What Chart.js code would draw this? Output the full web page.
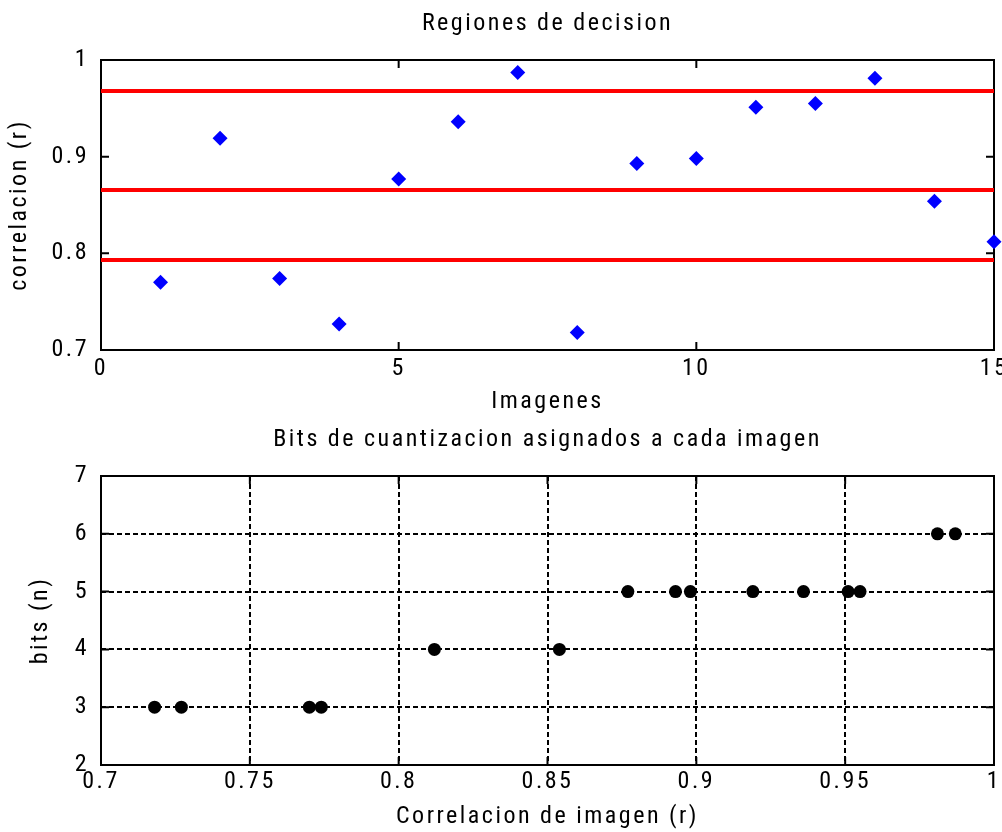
<!DOCTYPE html>
<html><head><meta charset="utf-8">
<script src="https://cdn.jsdelivr.net/npm/chart.js@4"></script>
<style>
html,body{margin:0;padding:0;background:#fff;width:1002px;height:832px;overflow:hidden}
#c1{position:absolute;left:0;top:0}
#c2{position:absolute;left:0;top:420px}
</style></head><body>
<canvas id="c1" width="1002" height="420"></canvas>
<canvas id="c2" width="1002" height="412"></canvas>
<script>
// ---- data ----
const images = [1,2,3,4,5,6,7,8,9,10,11,12,13,14,15];
const correlation = [0.770,0.919,0.774,0.727,0.877,0.936,0.987,0.718,0.893,0.898,0.951,0.955,0.981,0.854,0.812];
const thresholds = [0.968,0.8655,0.793];
const bits = [3,5,3,3,5,5,6,3,5,5,5,5,6,4,4];
const topTitle = 'Regiones de decision';
const topXLabel = 'Imagenes';
const topYLabel = 'correlacion (r)';
const botTitle = 'Bits de cuantizacion asignados a cada imagen';
const botXLabel = 'Correlacion de imagen (r)';
const botYLabel = 'bits (n)';

// ---- style ----
const FONT = "'Roboto Condensed','DejaVu Sans Condensed',sans-serif";
const SPACING = '2.5px';
const FS = 24;
Chart.defaults.font.family = FONT;
Chart.defaults.font.size = FS;
Chart.defaults.color = '#000';
Chart.defaults.animation = false;

const spacingPlugin = {
  id: 'spacing',
  beforeUpdate(c){ c.ctx.letterSpacing = SPACING; },
  beforeLayout(c){ c.ctx.letterSpacing = SPACING; },
  beforeDraw(c){ c.ctx.letterSpacing = SPACING; }
};
Chart.register(spacingPlugin);

const framePlugin = {
  id: 'frame',
  beforeDatasetsDraw(c){
    const ctx = c.ctx, a = c.chartArea;
    ctx.save();
    ctx.strokeStyle = '#000';
    ctx.lineWidth = 2;
    ctx.setLineDash([]);
    ctx.strokeRect(a.left, a.top, a.right - a.left, a.bottom - a.top);
    const L = 8;
    ctx.beginPath();
    c.scales.x.ticks.forEach(t => {
      const px = c.scales.x.getPixelForValue(t.value);
      ctx.moveTo(px, a.bottom); ctx.lineTo(px, a.bottom - L);
      ctx.moveTo(px, a.top); ctx.lineTo(px, a.top + L);
    });
    c.scales.y.ticks.forEach(t => {
      const py = c.scales.y.getPixelForValue(t.value);
      ctx.moveTo(a.left, py); ctx.lineTo(a.left + L, py);
      ctx.moveTo(a.right, py); ctx.lineTo(a.right - L, py);
    });
    ctx.stroke();
    ctx.restore();
  }
};

function fmt(v){ return String(Math.round(v * 1000) / 1000); }

// ---- top chart ----
const lineSets = thresholds.map(t => ({
  type: 'line',
  data: [{x: 0, y: t}, {x: 15, y: t}],
  borderColor: '#ff0000',
  borderWidth: 4,
  pointRadius: 0,
  order: 2
}));

new Chart(document.getElementById('c1'), {
  type: 'scatter',
  data: {
    datasets: [{
      data: images.map((x, i) => ({x, y: correlation[i]})),
      pointStyle: 'rectRot',
      pointRadius: 7.5,
      backgroundColor: '#0000ff',
      borderWidth: 0,
      clip: false,
      order: 1
    }, ...lineSets]
  },
  options: {
    responsive: false,
    layout: {padding: {left: 0, right: 8, top: 0, bottom: 0}},
    plugins: {
      legend: {display: false},
      tooltip: {enabled: false},
      title: {display: true, text: topTitle, fullSize: false, font: {size: FS, weight: 'normal'}, padding: {top: 9.1, bottom: 22.1}}
    },
    scales: {
      x: {
        type: 'linear', min: 0, max: 15,
        grid: {display: false, drawTicks: false},
        border: {display: false},
        ticks: {stepSize: 5, padding: 4.5, maxRotation: 0, callback: fmt},
        title: {display: true, text: topXLabel, padding: {top: 0, bottom: 3.6}},
        afterFit(s){ s.height = 70; s.paddingLeft = 0; s.paddingRight = 0; }
      },
      y: {
        min: 0.7, max: 1,
        grid: {display: false, drawTicks: false},
        border: {display: false},
        ticks: {stepSize: 0.1, padding: 12, callback: fmt},
        title: {display: true, text: topYLabel, padding: {top: 5.6, bottom: 0}},
        afterFit(s){ s.width = 101; s.paddingTop = 0; s.paddingBottom = 0; }
      }
    }
  },
  plugins: [framePlugin]
});

// ---- bottom chart ----
new Chart(document.getElementById('c2'), {
  type: 'scatter',
  data: {
    datasets: [{
      data: correlation.map((x, i) => ({x, y: bits[i]})),
      pointStyle: 'circle',
      pointRadius: 6.5,
      backgroundColor: '#000',
      borderWidth: 0,
      clip: false
    }]
  },
  options: {
    responsive: false,
    layout: {padding: {left: 0, right: 8, top: 0, bottom: 0}},
    plugins: {
      legend: {display: false},
      tooltip: {enabled: false},
      title: {display: true, text: botTitle, fullSize: false, font: {size: FS, weight: 'normal'}, padding: {top: 5.6, bottom: 21.6}}
    },
    scales: {
      x: {
        type: 'linear', min: 0.7, max: 1,
        grid: {color: '#000', lineWidth: 2, drawTicks: false},
        border: {display: false, dash: [5, 3]},
        ticks: {stepSize: 0.05, padding: 2.3, maxRotation: 0, callback: fmt},
        title: {display: true, text: botXLabel, padding: {top: 0, bottom: 0.9}},
        afterFit(s){ s.height = 67; s.paddingLeft = 0; s.paddingRight = 0; }
      },
      y: {
        min: 2, max: 7,
        grid: {color: '#000', lineWidth: 2, drawTicks: false},
        border: {display: false, dash: [5, 3]},
        ticks: {stepSize: 1, padding: 12, callback: fmt},
        title: {display: true, text: botYLabel, padding: {top: 26.6, bottom: 0}},
        afterFit(s){ s.width = 101; s.paddingTop = 0; s.paddingBottom = 0; }
      }
    }
  },
  plugins: [framePlugin]
});
</script>
</body></html>
